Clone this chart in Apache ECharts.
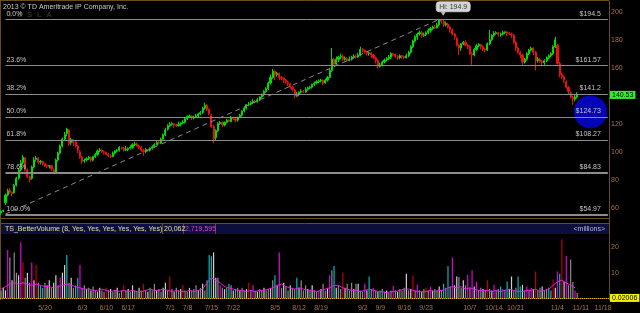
<!DOCTYPE html>
<html><head><meta charset="utf-8">
<script src="https://cdn.jsdelivr.net/npm/echarts@6/dist/echarts.min.js"></script>
<style>html,body{margin:0;padding:0;background:#000;}#c{width:640px;height:313px;}</style>
</head><body><div id="c"></div><script>
// ---------- DATA ----------
const tickLabels = ['5/20','6/3','6/10','6/17','7/1','7/8','7/15','7/22','8/5','8/12','8/19','9/2','9/9','9/16','9/23','10/7','10/14','10/21','11/4','11/11','11/18'];
const priceTicks = [60,80,100,120,140,160,180,200];
const volTicks = [10,20];
const fibLevels = [194.5,161.57,141.2,124.73,108.27,84.83,54.97];
const fibPct = ['0.0%','23.6%','38.2%','50.0%','61.8%','78.6%','100.0%'];
const fibPrice = ['$194.5','$161.57','$141.2','$124.73','$108.27','$84.83','$54.97'];
const hiValue = 194.9, hiBar = 200;
const trendStart = [2, 55.4], trendEnd = [200, 194.5];
const lastPrice = 140.53;
const lastVolLine = 0.02006;
const circlePoint = [269, 128.4];
// half-day bars: [open, close, low, high]
const ohlc = [
[56.5,57.5,55,58],[57.5,58,56.8,58.5],[63.5,69,62,70],[69,72,68,73.5],[72.5,71,70,74],[71,70,68,71.5],[70.5,76,70,77],[76,81,75,82],
[81,87,80,88],[87,92,86,94],[92,96,91,97.5],[95.5,87,86,96],[87,82,81,88],[82,80,78,83],[81,89,80,90],[89,94,88,96],
[94.5,95.5,93,97],[95.5,92.5,91,96],[92.5,93,91,94],[93,91.5,90,93.5],[91.5,90,89,92],[90,89.5,88,91],[89.5,90,88,90.5],[90,88,86.5,90.5],
[87,85.5,84.5,88],[85.5,94,85,95],[94,99,93,100],[99,104,98,105],[104,109,103,110],[109,112,108,114],[113,116,111,117],[115.5,106,104,116],
[106.5,108.5,104.5,110],[108.5,106.5,104,109],[107,104,103,108],[104,101,99,105],[100,96,95,101],[96,93,91,97],[93.5,94,92,95],[94,95,93,96],
[95,96,94,97],[96,94,92.5,96.5],[94,96.5,93,97],[96.5,98,95.5,99],[98,100.5,97,101.5],[100.5,101,99.5,102.5],[101,100,99,102],[100,99.5,98,101],
[99.5,98,97.5,100],[98,97,96,99],[97,96.5,95.5,98],[96.5,99,96,100],[99,100.5,98,101],[100.5,101,99.5,102],[101,103,100,104],[103,102.5,101.5,103.5],
[102.5,101,100,103.5],[101,101.5,100.5,104],[101.5,102.5,100.5,103],[102.5,103,101.5,104.5],[103,105,102,106],[105,105.5,104,107],[105.5,104,103.5,106.5],[104,103,102,105],
[103,101,100,104],[101,100,97,102],[100,101.5,99,102.5],[101.5,101,100,102],[101,102.5,100,103],[102.5,103.5,101.5,104.5],[103.5,105,103,106],[105,106.5,104.5,107.5],
[106.5,106,105,107.5],[106,109,105.5,110],[109,112,108.5,113],[112,115.5,111,117],[116,118.5,115,119.5],[118.5,119.5,117.5,121],[119.5,120,118.5,121],[120,119,117,120.5],
[119,118.5,117.5,120],[118.5,119.5,118,121.5],[119.5,120.5,118,121],[120.5,121,119.5,122.5],[121,123.5,120,124],[123.5,125,122.5,126],[125,125.5,124,126.5],[125.5,124,122.5,126],
[124,124.5,123,125.5],[124.5,125.5,124,127],[125.5,127,124.5,127.5],[127,128,126,129],[128,131,127,132],[131,133,130,135],[133,130,129,134],[130,127,126,131],
[126,118,117,127],[118,109,106,119],[110,115,108,116],[115,120,114,121],[120,121,119,122],[121,119,117.5,121.5],[119,121,118,121.5],[121,122.5,120,123.5],
[122.5,121.5,121,123],[121.5,124,121,125.5],[124,123.5,122.5,125],[123.5,122.5,121,124],[122.5,124.5,121.5,125],[124.5,126,124,127],[126,129,125,129.5],[129,131,128,132],
[131,133.5,130,134],[133.5,134,132.5,135.5],[134,135,133,136],[135,136,134,137.5],[136,135.5,134.5,137],[135.5,137,135,138.5],[137,139,136,139.5],[139,140.5,138,141.5],
[141,143,139.5,144],[143,145,142,146],[145,149,144,150],[149,153,148,155],[153,157.5,152,159],[157.5,155,151,158],[155,156,153.5,157],[156,153,151,156.5],
[153,152.5,151,154],[152.5,151,149,153],[151,149.5,148.5,152],[149.5,148.5,147,150.5],[148.5,146,145,149],[146,144.5,143,147],[144,140,138,145],[140,141,139,142.5],
[141,142.5,139.5,143],[142.5,143,141.5,144.5],[143,142.5,142,144],[142.5,144.5,142,146],[144.5,145.5,143.5,146.5],[145.5,146,144.5,147],[146,148,145,148.5],[148,149,147,150],
[149,150,148,151],[150,150.5,149,151.5],[150.5,151,149.5,152],[151,149,147.5,151.5],[149,151,148.5,152],[151,153,150,154],[153,158,152.5,159],[158,166,157,174],
[166,162.5,161,167],[162.5,166,162,168],[166,167.5,164,168.5],[167.5,168,166,170],[168,166,164.5,169.5],[166,166.5,165,168],[166.5,165,164,167.5],[165,166,164.5,168],
[166,167.5,165,168.5],[167.5,168,166.5,169.5],[168,167.5,166.5,169.5],[167.5,169,167,170.5],[169,173,168,175],[173,172.5,171,174],[172.5,171,170,173],[171,170,168.5,172],
[170,170.5,168.5,171.5],[170.5,169,167,171],[169,167,166,170],[167,165,163,168],[165,161,159.5,166],[161,162,160,163.5],[162,164,161,165],[164,165.5,163,166.5],
[165.5,166.5,164.5,167.5],[166.5,167.5,165.5,169],[167.5,170,166,171],[170,169.5,168,170.5],[169.5,168,167,170],[168,167,165.5,169],[167,168.5,166,169.5],[168.5,168,166.5,169],
[168,167,166,168.5],[167,168.5,166.5,170],[168.5,171,167.5,172],[171,175,170,176],[175,179,174,180],[179,182,178,183],[182,184,180,185],[184,185,183,186.5],
[185,183,181.5,186.5],[183,183.5,182,185],[183.5,185,182.5,186],[185,186.5,184,188],[186.5,188,185,189],[188,189,187,190],[189,188.5,187.5,190.5],[188.5,190.5,188,192],
[190.5,194,189.5,194.9],[194,193,191.5,194.5],[193,190.5,189,194],[190.5,191.5,189.5,193],[191,189,188,192],[189,187,185,190],[187,184,183,188],[184,182,180,185],
[181,176,175,182],[176,174,169,177],[174,177,172,177.5],[177,178,176,179],[178,176,175,179.5],[176,175,173,177],[175,170,169,176],[170,169,162,171],
[169,173,168,174],[173,175.5,172,177],[175.5,176.5,174.5,177.5],[176.5,175,173,177],[175,173,172,176],[173,172.5,171,174],[172.5,177,172,178],[177,180,176,187],
[180,183,179,184],[183,184.5,182,186],[184.5,185,183.5,186],[185,183.5,182,185.5],[183.5,184,182,185],[184,185,183,186.5],[185,185.5,184,186],[185.5,184.5,182.5,186],
[184.5,184,183,185.5],[184,183.5,181,185],[183,178,177,184],[178,174,172,179],[174,171,170,175],[171,169,167,172],[169,164,162,170],[164,166,163,167],
[166,170,165,171],[170,172.5,169,173.5],[172.5,174,171.5,175],[174,171,169,174.5],[171,165,158,172],[165,166,163.5,167.5],[166,164.5,163.5,167],[164.5,163.5,161,165.5],
[163.5,165,162,166],[165,167,164,168],[167,168.5,166,169.5],[168.5,170,167.5,171],[170,175,169,176],[175,180,174,182],[176,163,162,177],[163,155,153,164],
[155,153.5,152,156.5],[153.5,151,149,154.5],[150,146,145,151],[146,143,141,147],[142,139,138,143],[139,137.5,133.5,140],[137.5,139,136,140.5],[139,140.53,138,142.5]
];
// volume per half-day bar (millions) and its colour class
const volume = [
3,4,3,19,16,7,18,10,9,22, 14,8,10,6,14,7,13,6,5,4, 6,5,7,4,6,9,5,8,10,13, 17,6,8,4,5,8,13,4,5,3.5,
4,3,4.5,3,2.5,4,3,2.5,4,3, 3.5,2.5,3,4,2,3,5,3,3.5,2.5, 5,3,2.5,4,3,5.6,3,2.5,4,3, 5.6,3,3.5,2.5,4,6,3,8.5,3.5,2.5,
4,3,3.5,5,3,2.5,4,3,3.5,5, 3,4,5.6,3,7,17,16.5,18,8,8, 5,4,3.5,4,5.6,5,3,3.5,4,3, 4,3,3.5,6,3,5,3,2.5,3.5,3,
4,3,3.5,4,7,9,5,18,4,6, 4.5,3,5,4,3.5,8,4,7,3,5, 3.5,3,5,3,2.5,3,3.5,5.6,3,4, 9,11,12.6,4,5,3.5,10,4,5.6,3,
6,3.5,5.6,5.6,3,2.5,5.6,3,8.5,3.5, 4,3,2.5,3,3.5,2.5,3,2,3,4.7, 3,2.5,3.5,3,4,9.6,3,3.5,9,3, 5.2,3,2.5,3.5,4,3,4.5,3,3.5,3,
4.5,3,5.6,4,12.6,4.5,16,5,8.5,8.3, 4,7,5,9.2,4,11,4.5,6.3,3,4, 3.5,3,7,3.5,3,5.2,3,3.5,4.5,3.5, 3,6.5,3.5,8.5,3,4,8.5,4.5,5.2,3,
4.5,3,4,3.5,10.5,3,4,4.5,3,3.5, 4,3,7.3,4,10.5,9.6,23.2,6.5,16.7,5, 15.2,6.3,3,2
];
const volType = 'gwwmgwggwm'+'rgwgmwrgcg'+'gwwgwwgmww'+'cgwggcmggw'+'gwggwwggrg'+'wggwggrgwg'+'wggwgrgwgg'+'gwggwwgrgw'+'ggwrggwggg'+'wgwggccwwg'+
 'mgwgcgwggw'+'ggwrgmgwgg'+'wggwgcwmgw'+'ggwggcwggg'+'wgwggmwggw'+'mgcwggrwgg'+'gwgwggmwcg'+'mgwcggwggm'+'gwgggwgwrg'+'mgwgrgmwgg'+
 'wgcgcgmwwg'+'gwgmgmwmgg'+'wgrgwmggcm'+'gcwwggccwg'+'mgmwrggwgg'+'cgrwmcrwmg'+'ggmg';
// magenta volume average, one value per trading day
const volAvgDaily = [
3.5,4.5,5.5,6,5.5,6,5.5,5,5.5,5, 4.5,4.5,4,4.5,5,5.5,5,4.5,4,3.5, 3.5,3,3,3.5,3,2.5,3,2.5,3,2.5, 3,2.5,2.5,3,3.5,3,3,3.5,3,2.5,
3,2.5,2.5,3,2.5,3,3.5,6,8,7, 6,4.5,4,3.5,3,3,2.5,3,2.5,3, 3,3.5,4,5,5.5,4.5,4,3.5,4,3.5, 3,3,2.5,3,3.5,4,5,5,4,3.5,
3,3,2.5,3,3.5,3,2.5,2.5,2,2.5, 2.5,3,3.5,3.5,3,2.5,2.5,2.5,3,2.5, 3,3,4,4.5,4,4.5,3.5,4,3.5,3, 3,3,2.5,3,2.5,3,3.5,3,2.5,2.5,
3,3,3.5,2.5,3,3.5,5,6.5,7,6, 5,4
];

// ---------- CATEGORIES (trading days, two bars per day) ----------
const holidays = ['2013-05-27','2013-07-04','2013-09-02','2013-11-28'];
const days = [];
const cur = new Date(Date.UTC(2013,4,8));
while (days.length < 139) {
  const wd = cur.getUTCDay(), iso = cur.toISOString().slice(0,10);
  if (wd > 0 && wd < 6 && holidays.indexOf(iso) < 0) days.push(new Date(cur.getTime()));
  cur.setUTCDate(cur.getUTCDate() + 1);
}
const cats = [];
days.forEach(dd => { const s = (dd.getUTCMonth()+1) + '/' + dd.getUTCDate(); cats.push(s + ' AM', s + ' PM'); });
const tickAt = {};
tickLabels.forEach(t => {
  const p = t.split('/').map(Number); const target = Date.UTC(2013, p[0]-1, p[1]);
  const k = days.findIndex(x => x.getTime() >= target); if (k >= 0) tickAt[2*k] = t;
});

const volColors = { w:'#cfcfcf', g:'#8a8a8a', c:'#00b8b8', m:'#dd00dd', r:'#c00000' };
const volData = volume.map((v,i) => ({ value: v, itemStyle: { color: volColors[volType[i]] } }));
const avgData = cats.map((c,i) => (i % 2 === 0 && volAvgDaily[i/2] !== undefined) ? volAvgDaily[i/2] : null);

const FONT = 'Liberation Sans, Arial, sans-serif';
const BROWN = '#6a4a22';
const AXTXT = '#a8743c';
const CLEAR = 'rgba(0,0,0,0)';
const last = cats.length - 1;

const fibMarks = [];
fibLevels.forEach((v,i) => {
  const w = (i === 5 || i === 6) ? 2 : 1;
  fibMarks.push([{ coord:[2, v], lineStyle:{ color:'#8c8c8c', width:w, type:'solid' },
      label:{ show:true, formatter: fibPct[i], position:'insideStartTop', distance:[1,2], color:'#c4c4c4', fontSize:7, fontFamily:FONT } },
    { coord:[last, v] }]);
  fibMarks.push([{ coord:[2, v], lineStyle:{ color:CLEAR, width:1 },
      label:{ show:true, formatter: fibPrice[i], position:'insideEndTop', distance:[7,2], color:'#c4c4c4', fontSize:7, fontFamily:FONT } },
    { coord:[last, v] }]);
});
fibMarks.push([{ coord: trendStart, lineStyle:{ color:'#8a8a8a', width:1, type:[5,4] }, label:{ show:false } }, { coord: trendEnd }]);
fibMarks.push({ yAxis: lastPrice, lineStyle:{ color:CLEAR, width:1 },
  label:{ show:true, position:'end', distance:1, formatter: lastPrice.toFixed(2), color:'#000', backgroundColor:'#2ef02e', padding:[1,2,0,2], fontSize:7, fontFamily:FONT } });

const option = {
  backgroundColor:'#000',
  animation:false,
  textStyle:{ fontFamily: FONT },
  grid:[ { left:0, top:1, width:609, height:217 }, { left:0, top:235, width:609, height:65 } ],
  xAxis:[
    { type:'category', gridIndex:0, data:cats, boundaryGap:true, axisLine:{show:false}, axisTick:{show:false}, axisLabel:{show:false}, splitLine:{show:false} },
    { type:'category', gridIndex:1, data:cats, boundaryGap:true, axisLine:{show:true, lineStyle:{color:BROWN}}, axisTick:{show:false},
      axisLabel:{ show:true, interval:(i)=> tickAt[i] !== undefined, formatter:(v,i)=> tickAt[i] || '', align:'left', padding:[0,0,0,2], color:AXTXT, fontSize:7, margin:5 }, splitLine:{show:false} }
  ],
  yAxis:[
    { type:'value', gridIndex:0, position:'right', min:52.6, max:207.6, axisLine:{show:true, lineStyle:{color:BROWN}}, axisTick:{show:false},
      axisLabel:{ show:true, customValues: priceTicks, color:AXTXT, fontSize:7, margin:2 }, splitLine:{show:false} },
    { type:'value', gridIndex:1, position:'right', min:-0.8, max:24.9, axisLine:{show:true, lineStyle:{color:BROWN}}, axisTick:{show:false},
      axisLabel:{ show:true, customValues: volTicks, color:AXTXT, fontSize:7, margin:2 }, splitLine:{show:false} }
  ],
  series:[
    { type:'scatter', xAxisIndex:0, yAxisIndex:0, z:1, data:[circlePoint], symbolSize:33, itemStyle:{ color:'#0606e6' }, silent:true },
    { type:'candlestick', name:'TSLA', xAxisIndex:0, yAxisIndex:0, z:3, data:ohlc, barWidth:1.6,
      itemStyle:{ color:'#00dd00', color0:'#ee1010', borderColor:'#00dd00', borderColor0:'#ee1010', borderWidth:1 },
      markLine:{ silent:true, symbol:['none','none'], data: fibMarks },
      markPoint:{ silent:true, data:[
        { coord:[hiBar, hiValue], symbol:'triangle', symbolRotate:180, symbolSize:[5,4], symbolOffset:[4,-5], itemStyle:{color:'#c8c8c8'}, label:{show:false} },
        { coord:[hiBar, hiValue], symbol:'rect', symbolSize:[0,0], label:{ show:true, position:'inside', offset:[14,-12], formatter:'Hi: ' + hiValue,
           color:'#333', backgroundColor:'#d6d6d6', borderColor:'#9a9a9a', borderWidth:0.5, borderRadius:3, padding:[2,3,1,3], fontSize:7, fontFamily:FONT } }
      ] } },
    { type:'bar', xAxisIndex:1, yAxisIndex:1, data:volData, barWidth:1.2, z:2,
      markLine:{ silent:true, symbol:['none','none'], data:[ { yAxis: lastVolLine, lineStyle:{ color:'#d8c400', type:'dotted', width:1 },
        label:{ show:true, position:'end', distance:1, formatter: String(lastVolLine), color:'#000', backgroundColor:'#f4f000', padding:[1,2,0,2], fontSize:7, fontFamily:FONT } } ] } },
    { type:'line', xAxisIndex:1, yAxisIndex:1, data:avgData, connectNulls:true, showSymbol:false, symbol:'none', z:3,
      lineStyle:{ color:'#e020e0', width:1 } }
  ],
  graphic:[
    { type:'line', shape:{x1:0,y1:0.5,x2:609,y2:0.5}, style:{stroke:BROWN, lineWidth:1}, silent:true },
    { type:'line', shape:{x1:0.5,y1:0,x2:0.5,y2:300}, style:{stroke:BROWN, lineWidth:1}, silent:true },
    { type:'line', shape:{x1:0,y1:218.5,x2:609,y2:218.5}, style:{stroke:BROWN, lineWidth:1}, silent:true },
    { type:'line', shape:{x1:0,y1:223.5,x2:609,y2:223.5}, style:{stroke:BROWN, lineWidth:1}, silent:true },
    { type:'line', shape:{x1:609.5,y1:217,x2:609.5,y2:236}, style:{stroke:BROWN, lineWidth:1}, silent:true },
    { type:'rect', shape:{x:1, y:224, width:608, height:10}, style:{fill:'#0d0d3e'}, silent:true },
    { type:'line', shape:{x1:162.5,y1:224,x2:162.5,y2:234}, style:{stroke:BROWN, lineWidth:1}, silent:true },
    { type:'line', shape:{x1:183.5,y1:224,x2:183.5,y2:234}, style:{stroke:BROWN, lineWidth:1}, silent:true },
    { type:'line', shape:{x1:215.5,y1:224,x2:215.5,y2:234}, style:{stroke:BROWN, lineWidth:1}, silent:true },
    { type:'text', x:5, y:229, style:{ text:'TS_BetterVolume (8, Yes, Yes, Yes, Yes, Yes, Yes)', fill:'#e0e0a8', font:'7px ' + FONT, verticalAlign:'middle' }, silent:true },
    { type:'text', x:164, y:229, style:{ text:'20,062', fill:'#e0e0a8', font:'7px ' + FONT, verticalAlign:'middle' }, silent:true },
    { type:'text', x:185, y:229, style:{ text:'2,719,595', fill:'#e040e0', font:'7px ' + FONT, verticalAlign:'middle' }, silent:true },
    { type:'text', x:605, y:229, style:{ text:'<millions>', fill:'#b8b8d8', font:'7px ' + FONT, align:'right', verticalAlign:'middle' }, silent:true },
    { type:'text', x:8, y:15, style:{ text:'T  E  S  L  A', fill:'#2a2a2a', font:'bold 8px ' + FONT, verticalAlign:'middle' }, silent:true },
    { type:'text', x:3, y:7, style:{ text:'2013 © TD Ameritrade IP Company, Inc.', fill:'#c8c8c8', font:'7px ' + FONT, verticalAlign:'middle' }, silent:true }
  ]
};
const chart = echarts.init(document.getElementById('c'), null, { renderer:'canvas' });
chart.setOption(option);
</script></body></html>
